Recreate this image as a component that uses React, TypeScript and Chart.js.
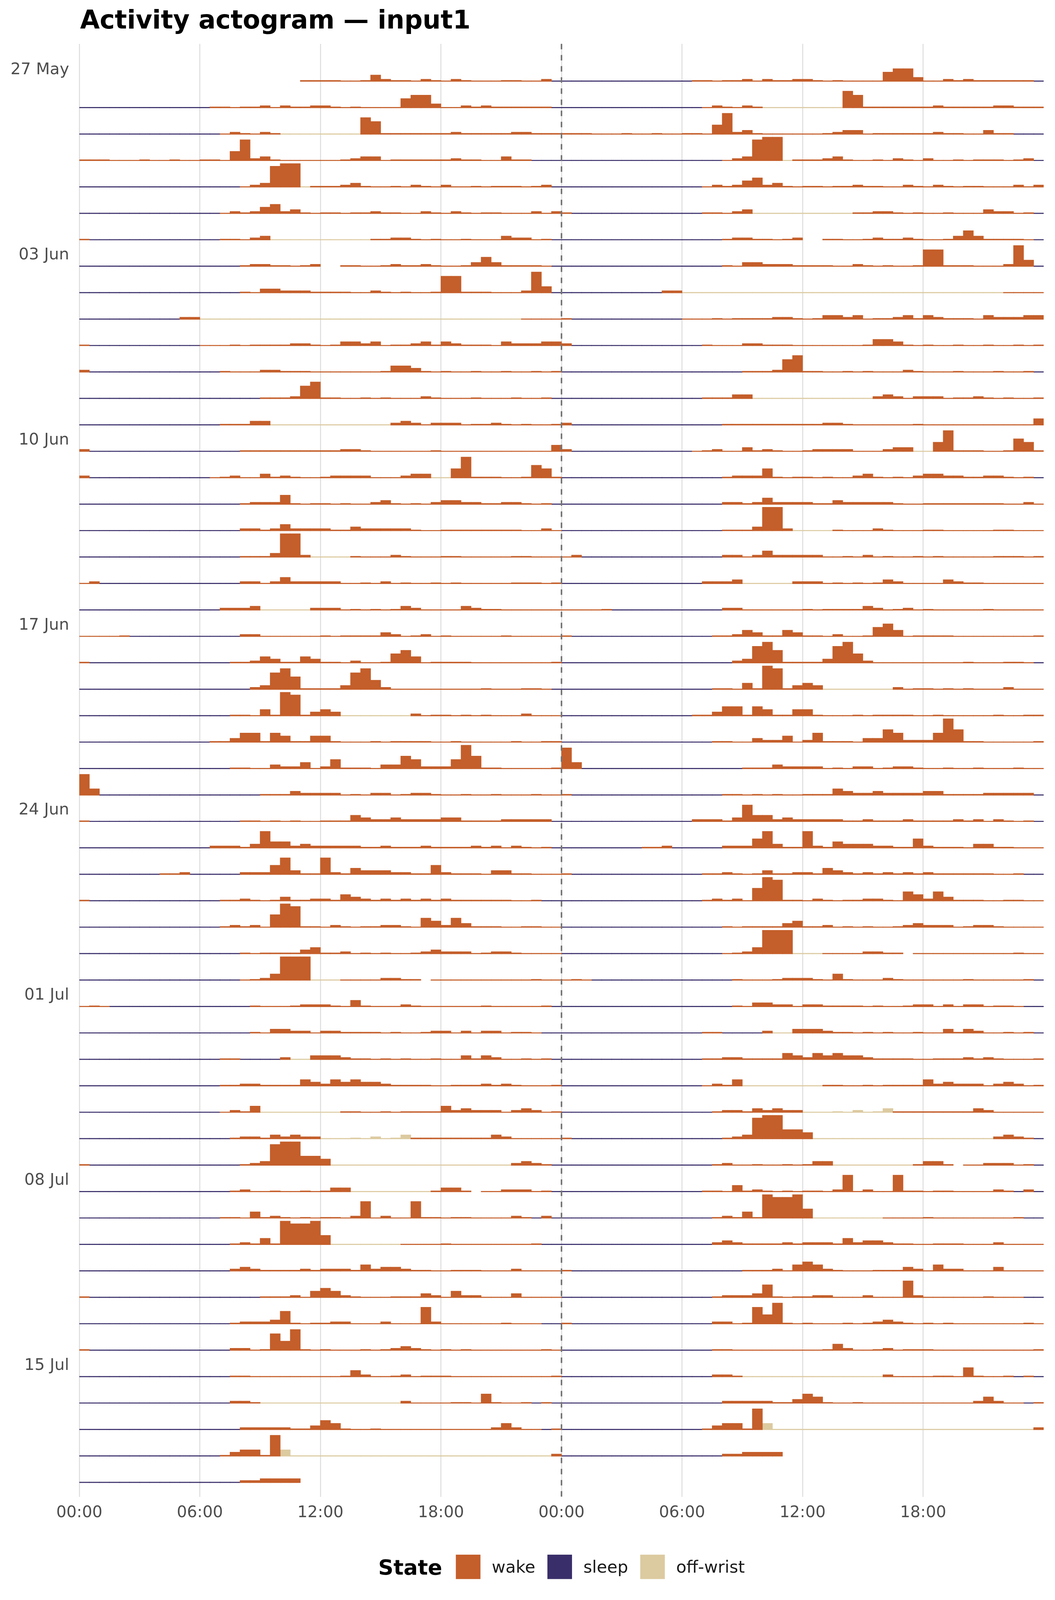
import { useEffect, useRef } from "react"
import { Chart, registerables } from "chart.js"

Chart.register(...registerables)

const WAKE = "#c45e2a"
const SLEEP = "#3a2e6a"
const OFF = "#dccaa0"

// One string per day, 48 half-hour bins starting at 00:00.
// digit = wake activity (0-9), s = sleep, o = off-wrist,
// a-i = off-wrist with some activity (1-9), . = no data
const week1 = [
  "......................1111001421102102100011002s",
  "sssssssssssss1101120211221010000566300212111111s",
  "ssssssssssssss021021oooooooo76111111121111122111",
  "111000100100110582310000001233011111121100311sss",
  "ssssssssssssssss023899o111231001021020010111012s",
  "ssssssssssssss0212452310110112110021021011000202",
  "1sssssssssssss11023oooooooooo112210100100032201s",
]
const week2 = [
  "ssssssssssssssss12211012..110012112100135311110s",
  "ssssssssssssssss1033222111100210100177111000284s",
  "ssssssssss22oooooooooooooooooooooooooooooooo0000",
  "1sssssssssss000101111221013323011231321110322233",
  "2sssssssssssss1000221110000000144310100100100101",
  "ssssssssssssssssss11126711001010002100010001001s",
  "ssssssssssssss11133oooooooooooo23202220112101001",
]
const week3 = [
  "2sssssssssssssss11111111112210000001000000000004",
  "2ssssssssssss0120031210012222000233oo58111001651",
  "ssssssssssssssss1222510110100231010233221122101s",
  "ssssssssssssssss22124222211322222100111111110020",
  "ssssssssssssssss1113992oooo100021000110000011000",
  "02ssssssssssssss22024222220010201001010000011101",
  "ssssssssssssss2223ooooo2220101013200003211000000",
]
const week4 = [
  "00001sssssssssss22000000101111320120100000100000",
  "1ssssssssssssss112431143110200156401111000000001",
  "sssssssssssssssss237861111378520000000001000110s",
  "sssssssssssssss11041981343ooooooo201101010002000",
  "sssssssssssss11355154114410001011110010000010011",
  "sssssssssssssss110032240251110336522259611000001",
  "84ssssssssssssssss111322220102201221001001000100",
]
const week5 = [
  "1sssssssssssssss1101010011143223222233111122222s",
  "sssssssssssss2221374423222221121112111121202101s",
  "ssssssss112sssss22257311721433322115211103311000",
  "1sssssssssssss11210131122143212121212111111001ss",
  "ssssssssssssss1212069811021011221054253111001100",
  "ssssssssssssssss10111134112010100123222012210000",
  "ssssssssssssssss0124999ooo00002211.0000000000100",
]
const week6 = [
  "010ssssssssssssss100012221041000210000001000001s",
  "sssssssssssssssss10332202211110100122020220110ss",
  "ssssssssssssss11ssss2oo333211010100100313200101s",
  "ssssssssssssss1122111143243433211110011121210001",
  "ssssssssssssss0214oooooooo1100101111423222023201",
  "sssssssssssssss122132322oooaoboac111111113200000",
  "1sssssssssssssss123899554oooooooooooooooooo2321s",
]
const week7 = [
  "sssssssssssssss120010010133oooooooo1331.0022201s",
  "ssssssssssssss1104121010110270200711011000021s2s",
  "sssssssssssssss1214198895ooooooo00001000000001ss",
  "sssssssssssssss232111121222142332110011100020000",
  "1sssssssssssssssss111204542100011132042200030000",
  "sssssssssssssss1222361011220002000720000001000ss",
  "1ssssssssssssss220175810100010123210101000000010",
]
const week8 = [
  "sssssssssssssss110000000001420012011100000000001",
  "sssssssssssssss221oooooooooooooo2000011051001s1s",
  "ssssssssssssssss222221135410010000000000024200s1",
  "ssssssssssssss134418doooooooooooooooooooooooooo2",
  "ssssssssssssssss223333..........................",
]

const weekLabels = ["27 May", "03 Jun", "10 Jun", "17 Jun", "24 Jun", "01 Jul", "08 Jul", "15 Jul"]
const hourTicks = [0, 6, 12, 18, 24, 30, 36, 42]
const legendItems = [
  { label: "wake", color: WAKE },
  { label: "sleep", color: SLEEP },
  { label: "off-wrist", color: OFF },
]
// bar height (fraction of a row) for each activity level 0-9
const levelHeights = [0, 0.045, 0.09, 0.16, 0.25, 0.36, 0.49, 0.64, 0.8, 0.9]

const days = [...week1, ...week2, ...week3, ...week4, ...week5, ...week6, ...week7, ...week8].map((d) =>
  (d + "................................................").slice(0, 48)
)

type Pt = { x: number; y: [number, number] }
const LINE = 0.03

function buildPoints() {
  const wake: Pt[] = []
  const sleep: Pt[] = []
  const off: Pt[] = []
  for (let r = 0; r < days.length; r++) {
    // double plot: left half is day r, right half is day r + 1
    for (let half = 0; half < 2; half++) {
      const d = days[r + half]
      if (!d) continue
      for (let k = 0; k < 48; k++) {
        const c = d[k]
        if (c === ".") continue
        let level = 0
        let target = wake
        if (c === "s") target = sleep
        else if (c === "o") target = off
        else if (c >= "a" && c <= "i") {
          target = off
          level = c.charCodeAt(0) - 96
        } else level = Number(c)
        const base = r + 0.5
        target.push({ x: half * 24 + k * 0.5 + 0.25, y: [base, base - Math.max(LINE, levelHeights[level])] })
      }
    }
  }
  return { wake, sleep, off }
}

const FONT = "'DejaVu Sans', sans-serif"
const W = 2700
// the sandbox viewport can be shorter than 4200; squeeze the layout to stay fully visible
const H = Math.min(4200, typeof window !== "undefined" && window.innerHeight > 1000 ? window.innerHeight : 4200)
const sy = H / 4200

const overlay = {
  id: "overlay",
  afterDatasetsDraw(chart: any) {
    const { ctx, chartArea, scales } = chart
    const x = scales.x.getPixelForValue(24)
    ctx.save()
    ctx.strokeStyle = "#767676"
    ctx.lineWidth = 4
    ctx.setLineDash([14, 14.5])
    ctx.beginPath()
    ctx.moveTo(x, chartArea.top)
    ctx.lineTo(x, chartArea.bottom)
    ctx.stroke()
    ctx.restore()
  },
  afterDraw(chart: any) {
    const { ctx, chartArea } = chart
    ctx.save()
    ctx.fillStyle = "#000"
    ctx.textBaseline = "alphabetic"
    ctx.font = `bold 65px ${FONT}`
    ctx.fillText("Activity actogram \u2014 input1", 205, 75 * sy)

    // legend
    const keyW = 63
    const keyH = 64 * sy
    const midY = 4113 * sy
    ctx.font = `bold 54px ${FONT}`
    const titleW = ctx.measureText("State").width
    ctx.font = `43px ${FONT}`
    let total = titleW + 35
    legendItems.forEach((it, i) => {
      total += keyW + 29 + ctx.measureText(it.label).width + (i < legendItems.length - 1 ? 31 : 0)
    })
    let x = (chartArea.left + chartArea.right) / 2 - total / 2
    ctx.font = `bold 54px ${FONT}`
    ctx.fillText("State", x, midY + 20)
    x += titleW + 35
    ctx.font = `43px ${FONT}`
    legendItems.forEach((it) => {
      ctx.fillStyle = it.color
      ctx.fillRect(x, midY - keyH / 2, keyW, keyH)
      x += keyW + 29
      ctx.fillStyle = "#1a1a1a"
      ctx.fillText(it.label, x, midY + 15)
      x += ctx.measureText(it.label).width + 31
    })
    ctx.restore()
  },
}

export default function App() {
  const chartRef = useRef<HTMLCanvasElement>(null)

  useEffect(() => {
    document.body.style.margin = "0"
    if (!chartRef.current) return
    const pts = buildPoints()
    const barDefaults = { grouped: false, barThickness: 26.2, borderWidth: 0, borderSkipped: false }

    const chart = new Chart(chartRef.current, {
      type: "bar",
      data: {
        datasets: [
          { label: "wake", data: pts.wake as any, backgroundColor: WAKE, ...barDefaults },
          { label: "sleep", data: pts.sleep as any, backgroundColor: SLEEP, ...barDefaults },
          { label: "off-wrist", data: pts.off as any, backgroundColor: OFF, ...barDefaults },
        ],
      },
      options: {
        animation: false,
        responsive: false,
        devicePixelRatio: 1,
        layout: { padding: { top: 115 * sy, right: 29, bottom: 0, left: 0 } },
        plugins: {
          legend: { display: false },
          tooltip: { enabled: false },
        },
        scales: {
          x: {
            type: "linear",
            min: 0,
            max: 48,
            offset: false,
            border: { display: false },
            grid: { offset: false, color: "#dedede", lineWidth: 2.6, drawTicks: false },
            afterBuildTicks: (s: any) => {
              s.ticks = hourTicks.map((v) => ({ value: v }))
            },
            afterFit: (s: any) => {
              s.height = 271 * sy
            },
            ticks: {
              padding: 17 * sy,
              autoSkip: false,
              maxRotation: 0,
              color: "#4d4d4d",
              font: { family: FONT, size: 41 },
              callback: (v: any) => String(Number(v) % 24).padStart(2, "0") + ":00",
            },
          },
          y: {
            type: "linear",
            reverse: true,
            min: -0.9265,
            max: 54.03,
            border: { display: false },
            grid: { display: false, drawTicks: false },
            afterBuildTicks: (s: any) => {
              s.ticks = weekLabels.map((_, i) => ({ value: i * 7 + 0.07 }))
            },
            afterFit: (s: any) => {
              s.width = 203
            },
            ticks: {
              padding: 26,
              autoSkip: false,
              color: "#4d4d4d",
              font: { family: FONT, size: 41 },
              callback: (v: any) => weekLabels[Math.round(Number(v) / 7)],
            },
          },
        },
      } as any,
      plugins: [overlay],
    })

    return () => {
      chart.destroy()
    }
  }, [])

  return (
    <div style={{ width: W, height: H }}>
      <canvas ref={chartRef} width={W} height={H} style={{ display: "block", width: W, height: H }} />
    </div>
  )
}
